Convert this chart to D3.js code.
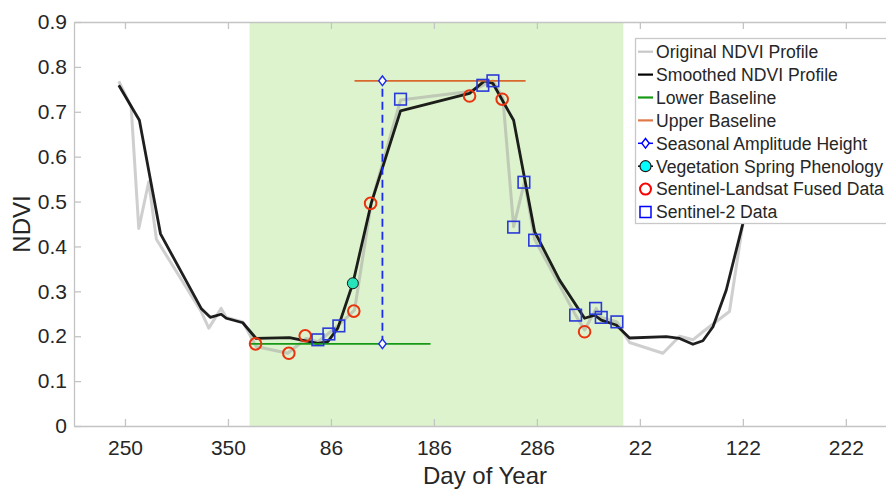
<!DOCTYPE html>
<html>
<head>
<meta charset="utf-8">
<script src="https://cdn.jsdelivr.net/npm/d3@7"></script>
<style>
	html, body { margin: 0; padding: 0; background: #fff; overflow: hidden; }
	svg { display: block; font-family: "Liberation Sans", Arial, sans-serif; }
	.axis text { fill: #262626; font-size: 21px; }
	.axis path, .axis line { stroke: #c4c4c4; stroke-width: 1.3; }
</style>
</head>
<body>
<svg id="chart" width="886" height="489"></svg>
<script>
// continuous day index (days run on past year end); labels show day of year
var tickDays = [250, 350, 450, 550, 650, 750, 850, 950];
var tickLabels = ['250', '350', '86', '186', '286', '22', '122', '222'];

// growing season band
var seasonStart = 371;
var seasonEnd = 734;

// original NDVI profile
var origDay = [244, 256, 263.4, 273.1, 280.5, 324, 331.4, 343.4, 348.3, 364.4, 377.4, 408, 426, 437.3, 447, 457.7,
	472.9, 489.1, 517.6, 584.6, 597.5, 607.3, 617, 627.4, 638, 647.8, 687.6, 696.3, 707.6, 712.5, 727.7, 740,
	772.4, 788.6, 801.5, 811.2, 837, 848.5, 864];
var origNdvi = [0.768, 0.711, 0.440, 0.544, 0.416, 0.255, 0.218, 0.262, 0.242, 0.232, 0.177, 0.162, 0.195, 0.188, 0.205, 0.225,
	0.258, 0.496, 0.726, 0.745, 0.759, 0.769, 0.730, 0.444, 0.544, 0.416, 0.247, 0.214, 0.262, 0.242, 0.232, 0.186,
	0.162, 0.200, 0.192, 0.210, 0.255, 0.429, 0.64];

// smoothed NDVI profile
var smoothDay = [244, 264, 284.5, 324, 332.8, 343.4, 348.3, 364.4, 377.4, 409.8, 437.3, 447, 456.7, 471.3, 489.1,
	517.6, 584.6, 599.2, 607.3, 627.4, 647.8, 672, 696.3, 706, 712.5, 727, 740, 775.6, 788.6, 801.5, 811.2,
	821, 833.9, 850, 864];
var smoothNdvi = [0.759, 0.681, 0.428, 0.262, 0.242, 0.249, 0.240, 0.230, 0.195, 0.197, 0.184, 0.188, 0.218, 0.318, 0.496,
	0.702, 0.741, 0.769, 0.763, 0.681, 0.433, 0.325, 0.240, 0.247, 0.236, 0.225, 0.196, 0.199, 0.195, 0.182, 0.190,
	0.221, 0.303, 0.451, 0.64];

// baselines
var lowerDays = [371, 546.7];
var lowerValue = 0.183;
var upperDays = [472.9, 639];
var upperValue = 0.769;

// seasonal amplitude
var amplitudeDay = 500;
var amplitudeNdvi = [0.183, 0.769];

// vegetation spring phenology
var springDay = 471.3;
var springNdvi = 0.318;

// Sentinel-Landsat fused data
var fusedDay = [376.8, 409.1, 425, 472.2, 488.5, 584.6, 616.3, 696.3];
var fusedNdvi = [0.183, 0.162, 0.201, 0.256, 0.496, 0.735, 0.728, 0.210];

// Sentinel-2 data
var s2Day = [437.3, 448, 457.7, 517.6, 597.5, 607.3, 627.4, 637.4, 647.8, 687.6, 707, 712.5, 727.7];
var s2Ndvi = [0.192, 0.205, 0.223, 0.728, 0.759, 0.769, 0.443, 0.543, 0.414, 0.247, 0.262, 0.242, 0.232];

var legendNames = ['Original NDVI Profile', 'Smoothed NDVI Profile', 'Lower Baseline', 'Upper Baseline',
	'Seasonal Amplitude Height', 'Vegetation Spring Phenology', 'Sentinel-Landsat Fused Data', 'Sentinel-2 Data'];

var pLeft = 74, pRight = 886, pTop = 22, pBottom = 426;
var svg = d3.select('#chart');

var x = d3.scaleLinear().domain([200.5, 989]).range([pLeft, pRight]);
var y = d3.scaleLinear().domain([0, 0.9]).range([pBottom, pTop]);

function pairs(days, vals){
	return days.map(function(d, i){ return [d, vals[i]]; });
}
var line = d3.line()
	.x(function(d){ return x(d[0]); })
	.y(function(d){ return y(d[1]); });

svg.append('defs').append('clipPath').attr('id', 'plot')
	.append('rect').attr('x', pLeft).attr('y', pTop)
	.attr('width', pRight - pLeft).attr('height', pBottom - pTop);

// season band
svg.append('rect')
	.attr('x', x(seasonStart)).attr('y', pTop)
	.attr('width', x(seasonEnd) - x(seasonStart))
	.attr('height', pBottom - pTop)
	.attr('fill', '#ddf3cd');

// axes
var yAxis = d3.axisLeft(y)
	.tickValues(d3.range(0, 10).map(function(i){ return i / 10; }))
	.tickFormat(d3.format('~g'))
	.tickSizeInner(-7).tickSizeOuter(0).tickPadding(7);
svg.append('g').attr('class', 'axis')
	.attr('transform', 'translate(' + pLeft + ',0)')
	.call(yAxis);

var xAxis = d3.axisBottom(x)
	.tickValues(tickDays)
	.tickFormat(function(d, i){ return tickLabels[i]; })
	.tickSizeInner(-7).tickSizeOuter(0).tickPadding(14);
svg.append('g').attr('class', 'axis')
	.attr('transform', 'translate(0,' + pBottom + ')')
	.call(xAxis);

var xTop = d3.axisTop(x)
	.tickValues(tickDays)
	.tickFormat('')
	.tickSizeInner(-7).tickSizeOuter(0);
svg.append('g').attr('class', 'axis')
	.attr('transform', 'translate(0,' + pTop + ')')
	.call(xTop);

var plot = svg.append('g').attr('clip-path', 'url(#plot)');

// profiles
plot.append('path')
	.datum(pairs(origDay, origNdvi))
	.attr('d', line)
	.attr('fill', 'none')
	.attr('stroke', '#a0a0a0')
	.attr('stroke-opacity', 0.5)
	.attr('stroke-width', 3)
	.attr('stroke-linejoin', 'round');

plot.append('path')
	.datum(pairs(smoothDay, smoothNdvi))
	.attr('d', line)
	.attr('fill', 'none')
	.attr('stroke', '#000')
	.attr('stroke-opacity', 0.88)
	.attr('stroke-width', 2.8)
	.attr('stroke-linejoin', 'round');

// baselines
plot.append('path')
	.datum(lowerDays.map(function(d){ return [d, lowerValue]; }))
	.attr('d', line)
	.attr('stroke', '#169a16').attr('stroke-width', 1.8).attr('fill', 'none');
plot.append('path')
	.datum(upperDays.map(function(d){ return [d, upperValue]; }))
	.attr('d', line)
	.attr('stroke', '#d9682c').attr('stroke-width', 1.8).attr('fill', 'none');

// amplitude
plot.append('path')
	.datum(amplitudeNdvi.map(function(v){ return [amplitudeDay, v]; }))
	.attr('d', line)
	.attr('stroke', '#1a2cf0').attr('stroke-width', 1.8)
	.attr('stroke-dasharray', '8,5').attr('fill', 'none');

// diamond marker: a rotated square, a bit taller than wide
var diamond = d3.symbol().type(d3.symbolSquare).size(38);
var diamondShape = ' scale(0.85,1.1) rotate(45)';
plot.selectAll('.amp')
	.data(amplitudeNdvi)
	.enter()
	.append('path')
	.attr('class', 'amp')
	.attr('d', diamond)
	.attr('transform', function(d){ return 'translate(' + x(amplitudeDay) + ',' + y(d) + ')' + diamondShape; })
	.attr('fill', '#fff').attr('stroke', '#1a2cf0').attr('stroke-width', 1.5);

// fused data
plot.selectAll('.fused')
	.data(pairs(fusedDay, fusedNdvi))
	.enter()
	.append('circle')
	.attr('class', 'fused')
	.attr('cx', function(d){ return x(d[0]); })
	.attr('cy', function(d){ return y(d[1]); })
	.attr('r', 5.8)
	.attr('fill', 'none')
	.attr('stroke', '#e8340f')
	.attr('stroke-width', 2);

// sentinel-2
plot.selectAll('.s2')
	.data(pairs(s2Day, s2Ndvi))
	.enter()
	.append('rect')
	.attr('class', 's2')
	.attr('x', function(d){ return x(d[0]) - 5.8; })
	.attr('y', function(d){ return y(d[1]) - 5.8; })
	.attr('width', 11.6).attr('height', 11.6)
	.attr('fill', 'none')
	.attr('stroke', '#2a3ad8')
	.attr('stroke-width', 1.6);

// spring phenology
plot.append('circle')
	.attr('cx', x(springDay)).attr('cy', y(springNdvi))
	.attr('r', 5.5)
	.attr('fill', '#27e3ba')
	.attr('stroke', '#1a1a1a').attr('stroke-width', 1);

// axis labels
svg.append('text')
	.attr('x', (pLeft + pRight) / 2 + 5).attr('y', 484)
	.attr('text-anchor', 'middle')
	.attr('font-size', 24).attr('fill', '#262626')
	.text('Day of Year');
svg.append('text')
	.attr('transform', 'translate(30,' + ((pTop + pBottom) / 2) + ') rotate(-90)')
	.attr('text-anchor', 'middle')
	.attr('font-size', 24).attr('fill', '#262626')
	.text('NDVI');

// legend
var lg = svg.append('g');
lg.append('rect')
	.attr('x', 635.5).attr('y', 38.5).attr('width', 260).attr('height', 185)
	.attr('fill', '#fff').attr('stroke', '#c8c8c8').attr('stroke-width', 1.3);

var rows = lg.selectAll('.row')
	.data(legendNames)
	.enter()
	.append('g')
	.attr('transform', function(d, i){ return 'translate(0,' + (51.7 + i * 22.9) + ')'; });
rows.append('text')
	.attr('x', 656).attr('y', 6.3)
	.attr('font-size', 17.6).attr('fill', '#262626')
	.text(function(d){ return d; });

var sampleColor = ['#c8c8c8', '#000', '#169a16', '#e07848', '#0000ff', '#000'];
rows.filter(function(d, i){ return i < 6; })
	.append('line')
	.attr('x1', 638).attr('x2', 653)
	.attr('stroke', function(d, i){ return sampleColor[i]; })
	.attr('stroke-width', function(d, i){ return i < 4 ? 2.2 : 1.5; });

var r4 = d3.select(rows.nodes()[4]);
r4.append('path')
	.attr('d', diamond)
	.attr('transform', 'translate(645.5,0)' + diamondShape)
	.attr('fill', '#fff').attr('stroke', '#0000ff').attr('stroke-width', 1.5);
var r5 = d3.select(rows.nodes()[5]);
r5.append('circle').attr('cx', 645.5).attr('r', 5.5)
	.attr('fill', '#00ffff').attr('stroke', '#1a1a1a').attr('stroke-width', 1.2);
var r6 = d3.select(rows.nodes()[6]);
r6.append('circle').attr('cx', 645.5).attr('r', 5.5)
	.attr('fill', 'none').attr('stroke', '#ff0000').attr('stroke-width', 2);
var r7 = d3.select(rows.nodes()[7]);
r7.append('rect').attr('x', 640).attr('y', -5.5).attr('width', 11).attr('height', 11)
	.attr('fill', 'none').attr('stroke', '#0000ff').attr('stroke-width', 1.5);
</script>
</body>
</html>
